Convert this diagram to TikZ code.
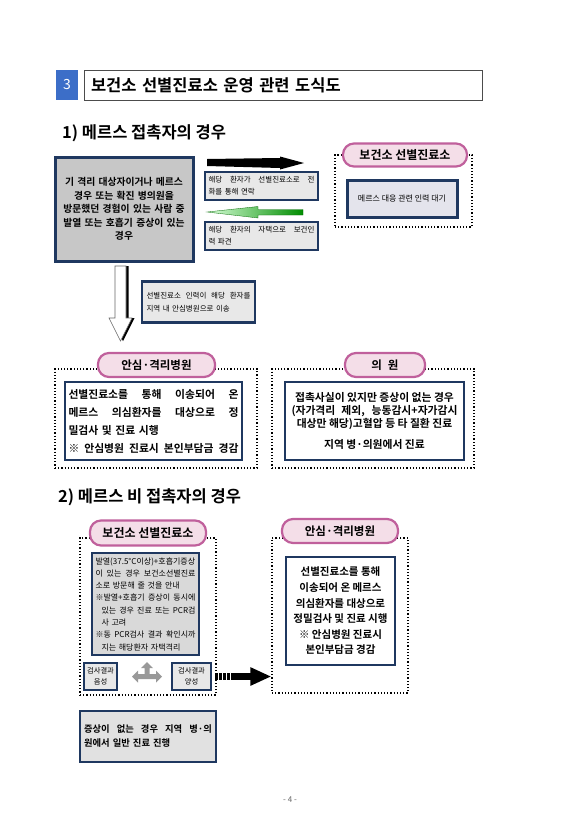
\documentclass[tikz,border=0pt]{standalone}
\usepackage{fontspec}
\setmainfont{Noto Sans CJK KR}[BoldFont={Noto Sans CJK KR Bold}]
\usetikzlibrary{arrows.meta}
\definecolor{navy}{RGB}{31,56,96}
\definecolor{boxgray}{RGB}{217,217,217}
\definecolor{lightgray}{RGB}{232,232,232}
\definecolor{standbyfill}{RGB}{228,228,236}
\definecolor{tagline}{RGB}{192,96,156}
\definecolor{tagfill}{RGB}{244,222,232}
\definecolor{titleblue}{RGB}{60,110,200}
\newcommand{\spread}[2]{\makebox[#1][s]{\spaceskip=0.3em plus 1fil\relax#2}}
\newcommand{\fs}[2]{\fontsize{#1}{#2}\selectfont}

\begin{document}
\begin{tikzpicture}[x=1pt,y=-1pt,
  box/.style={draw=navy,line width=2.5pt,fill=boxgray,inner sep=0pt},
  thinbox/.style={draw=navy,line width=1.5pt,fill=lightgray,inner sep=0pt},
  frame/.style={draw=black,dotted,line width=1.2pt,inner sep=0pt},
  tag/.style={draw=tagline,line width=2.2pt,fill=tagfill,rounded corners=11pt,inner sep=0pt,font=\bfseries\fs{12}{14}}]
  \path[use as bounding box,fill=white] (0,0) rectangle (580,820);

  \node[fill=titleblue,minimum width=22,minimum height=30,inner sep=0pt,text=white,font=\fs{14}{16}] at (67,85) (num) {3};
  \node[draw=black!70,line width=0.8pt,minimum width=398,minimum height=30,text width=384,align=left,inner sep=0pt,font=\bfseries\fs{16.5}{18}] at (283,85) (title) {보건소 선별진료소 운영 관련 도식도};
  \node[anchor=west,inner sep=0pt,font=\bfseries\fs{16.5}{18}] at (62,133) (head1) {1) 메르스 접촉자의 경우};

  \node[box,line width=3pt,fill=black!22,minimum width=138,minimum height=104,text width=132,align=center,font=\bfseries\fs{9.8}{13.5}] at (124,209) (patient) {기 격리 대상자이거나 메르스\\경우 또는 확진 병의원을\\방문했던 경험이 있는 사람 중\\발열 또는 호흡기 증상이 있는\\경우};
  \fill[black] (207,159)--(280,158)--(280,156.5)--(304,163)--(280,169.5)--(280,168)--(207,166)--cycle;
  \node[thinbox,minimum width=113,minimum height=28,text width=106,align=left,font=\fs{7.5}{12}] at (261.5,186) (call) {\spread{106pt}{해당 환자가 선별진료소로 전}\\화를 통해 연락};
  \shade[left color=green!15!white,right color=green!55!black,draw=green!40!black,line width=0.3pt] (207,212)--(258,206.5)--(258,209.5)--(303,209.5)--(303,215)--(258,215)--(258,218)--cycle;
  \node[thinbox,minimum width=113,minimum height=28,text width=106,align=left,font=\fs{7.5}{12}] at (261.5,236) (visit) {\spread{106pt}{해당 환자의 자택으로 보건인}\\력 파견};

  \node[frame,minimum width=137,minimum height=72] at (403.5,191) (clinic) {};
  \node[tag,minimum width=124,minimum height=23] at (405,155) (clinictag) {보건소 선별진료소};
  \node[box,line width=3pt,fill=standbyfill,minimum width=110,minimum height=37,font=\fs{8}{12}] at (402,198.5) (standby) {메르스 대응 관련 인력 대기};

  \fill[black,xshift=2.5pt] (115,266)--(126,266)--(126,318)--(132,318)--(120.5,341)--(109,318)--(115,318)--cycle;
  \filldraw[fill=white,draw=black!60,line width=0.6pt] (115,266)--(126,266)--(126,318)--(132,318)--(120.5,341)--(109,318)--(115,318)--cycle;
  \node[box,fill=lightgray,minimum width=113,minimum height=41,text width=104,align=left,font=\fs{7.5}{13}] at (198.5,302) (transfer) {\spread{104pt}{선별진료소 인력이 해당 환자를}\\지역 내 안심병원으로 이송};

  \node[frame,minimum width=202,minimum height=99] at (156,418.5) (hosp) {};
  \node[tag,minimum width=117,minimum height=24,font=\bfseries\fs{11.5}{14}] at (156.5,365) (hosptag) {안심·격리병원};
  \node[box,fill=white,minimum width=177,minimum height=78,text width=170,align=left,font=\bfseries\fs{10.8}{18}] at (153.5,421) (hospinfo) {\spread{170pt}{선별진료소를 통해 이송되어 온}\\\spread{170pt}{메르스 의심환자를 대상으로 정}\\밀검사 및 진료 시행\\\spread{170pt}{※ 안심병원 진료시 본인부담금 경감}};

  \node[frame,minimum width=202,minimum height=99] at (373,418.5) (doctor) {};
  \node[tag,minimum width=80,minimum height=24,font=\bfseries\fs{11.5}{14}] at (385,365) (doctortag) {의\hspace{6pt}원};
  \node[box,fill=white,minimum width=179,minimum height=78,align=center,font=\bfseries\fs{10.8}{13}] at (374.5,421) (doctorinfo) {접촉사실이 있지만 증상이 없는 경우\\\spread{166pt}{(자가격리 제외, 능동감시+자가감시}\\대상만 해당)고혈압 등 타 질환 진료\\[8pt]지역 병·의원에서 진료};

  \node[anchor=west,inner sep=0pt,font=\bfseries\fs{16.5}{18}] at (58,497) (head2) {2) 메르스 비 접촉자의 경우};

  \node[frame,minimum width=136,minimum height=157] at (148,616.5) (screen) {};
  \node[tag,minimum width=116,minimum height=25] at (148,533) (screentag) {보건소 선별진료소};
  \node[box,fill=boxgray,minimum width=107,minimum height=102,text width=100,align=left,font=\fs{8}{12.3}] at (145.5,604) (guide) {발열(37.5°C이상)+호흡기증상\\\spread{100pt}{이 있는 경우 보건소선별진료}\\소로 방문해 줄 것을 안내\\\spread{100pt}{※발열+호흡기 증상이 동시에}\\\hspace*{6pt}\spread{94pt}{있는 경우 진료 또는 PCR검}\\\hspace*{6pt}사 고려\\\spread{100pt}{※동 PCR검사 결과 확인시까}\\\hspace*{6pt}지는 해당환자 자택격리};
  \node[box,fill=lightgray,minimum width=33,minimum height=27,align=center,font=\fs{7.3}{11}] at (100.5,676.5) (neg) {검사결과\\음성};
  \node[box,fill=lightgray,minimum width=39,minimum height=27,align=center,font=\fs{7.3}{11}] at (191.5,676.5) (pos) {검사결과\\양성};
  \fill[black!40,shift={(147,673)}] (0,-11)--(6,-5)--(2.5,-5)--(2.5,1)--(9,1)--(9,-2.5)--(15,3.5)--(9,9.5)--(9,6)--(-9,6)--(-9,9.5)--(-15,3.5)--(-9,-2.5)--(-9,1)--(-2.5,1)--(-2.5,-5)--(-6,-5)--cycle;

  \node[frame,minimum width=136,minimum height=155] at (340,615.5) (ward) {};
  \node[tag,minimum width=116,minimum height=24,font=\bfseries\fs{11.5}{14}] at (340,531) (wardtag) {안심·격리병원};
  \node[box,fill=white,minimum width=109,minimum height=108,align=center,font=\bfseries\fs{10.5}{15.6}] at (340.5,611) (wardinfo) {선별진료소를 통해\\이송되어 온 메르스\\의심환자를 대상으로\\정밀검사 및 진료 시행\\※ 안심병원 진료시\\본인부담금 경감};
  \draw[line width=7pt,dash pattern=on 2.5pt off 1.5pt on 2.5pt off 1.5pt on 2.5pt off 1.5pt on 2.5pt off 1.5pt on 60pt,-{Triangle[length=21pt,width=17pt]}] ([xshift=3pt]pos.east) -- (pos.east -| ward.west);

  \node[box,fill=boxgray!80,minimum width=136,minimum height=51,text width=128,align=left,font=\bfseries\fs{9.3}{14}] at (148,736.5) (normal) {\spread{128pt}{증상이 없는 경우 지역 병·의}\\원에서 일반 진료 진행};

  \node[text=black!60,font=\fs{8}{9}] at (290,800) (page) {- 4 -};
\end{tikzpicture}
\end{document}
